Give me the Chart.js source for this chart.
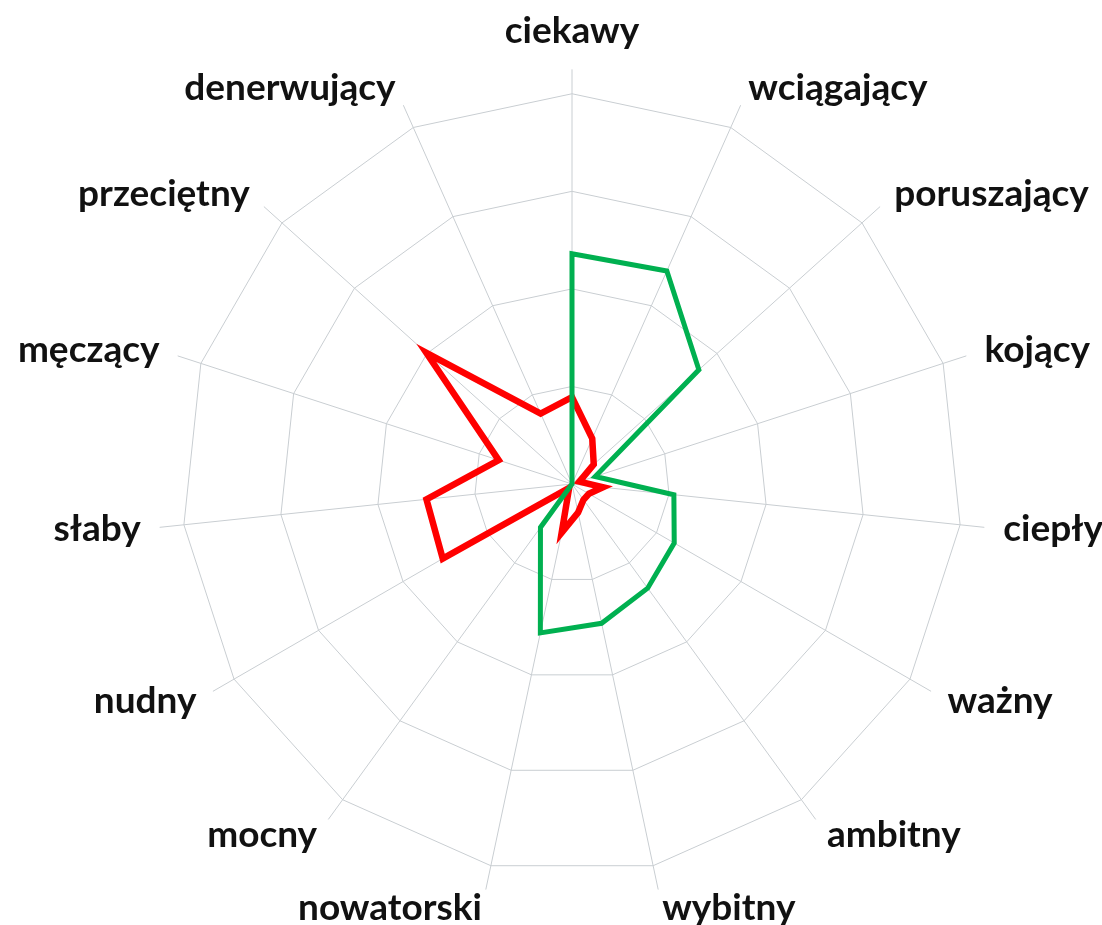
<!DOCTYPE html>
<html>
<head>
<meta charset="utf-8">
<script src="https://cdn.jsdelivr.net/npm/chart.js@4"></script>
<style>
  html, body { margin: 0; background: #fff; overflow: hidden; }
  canvas { display: block; }
</style>
</head>
<body>
<!-- a bit wider than the window: the right labels need the room for the scale fit, the spare strip is cut off -->
<canvas id="myRadarChart" width="1122" height="925"></canvas>
<script>
const categories = ["ciekawy", "wciągający", "poruszający", "kojący", "ciepły", "ważny", "ambitny", "wybitny", "nowatorski", "mocny", "nudny", "słaby", "męczący", "przeciętny", "denerwujący"];
const greenValues = [2.36, 2.39, 1.75, 0.25, 1.05, 1.21, 1.32, 1.46, 1.56, 0.55, 0, 0, 0, 0, 0];
const redValues = [0.89, 0.51, 0.3, 0.08, 0.32, 0.2, 0.2, 0.3, 0.51, 0.05, 1.53, 1.5, 0.79, 2.01, 0.79];
const scaleMax = 4.25;

const ctx = document.getElementById("myRadarChart").getContext("2d");
const myRadarChart = new Chart(ctx, {
  type: "radar",
  data: {
    labels: categories,
    datasets: [
      {
        label: "green",
        data: greenValues,
        fill: false,
        borderColor: "#00b050",
        borderWidth: 5,
        pointRadius: 0,
      },
      {
        label: "red",
        data: redValues,
        fill: false,
        borderColor: "#ff0000",
        borderWidth: 6.5,
        pointRadius: 0,
      },
    ],
  },
  options: {
    responsive: false,
    animation: false,
    plugins: {
      legend: { display: false },
      tooltip: { enabled: false },
    },
    layout: { padding: { top: 16, bottom: 2 } },
    scales: {
      r: {
        min: 0,
        max: scaleMax,
        bounds: "data",
        ticks: { display: false, stepSize: 1, includeBounds: false },
        grid: { color: "#c9ced2", lineWidth: 1 },
        angleLines: { display: true, color: "#c9ced2", lineWidth: 1 },
        pointLabels: {
          color: "#111",
          // labels are centred on their anchor; the top one sits above it
          padding: (c) => (c.index === 0 ? 38 : 19),
          font: { family: "Lato", size: 37, weight: "bold", lineHeight: 0.01 },
        },
      },
    },
  },
});
</script>
</body>
</html>
